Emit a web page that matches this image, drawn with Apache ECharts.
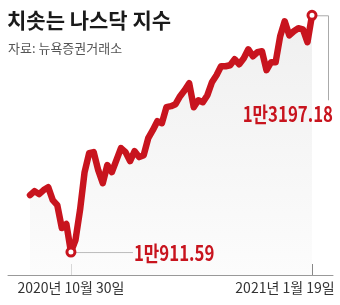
<!DOCTYPE html>
<html>
<head>
<meta charset="utf-8">
<title>치솟는 나스닥 지수</title>
<script src="https://cdn.jsdelivr.net/npm/echarts@6/dist/echarts.min.js"></script>
<style>
  body{margin:0;background:#fff;}
  #chart{width:340px;height:305px;}
</style>
</head>
<body>
<div id="chart"></div>
<script>
// 거래일 (2020.10.19 ~ 2021.1.19)
var days = [
    '2020-10-19','2020-10-20','2020-10-21','2020-10-22','2020-10-23','2020-10-26','2020-10-27','2020-10-28','2020-10-29','2020-10-30',
    '2020-11-02','2020-11-03','2020-11-04','2020-11-05','2020-11-06','2020-11-09','2020-11-10','2020-11-11','2020-11-12','2020-11-13',
    '2020-11-16','2020-11-17','2020-11-18','2020-11-19','2020-11-20','2020-11-23','2020-11-24','2020-11-25','2020-11-27','2020-11-30',
    '2020-12-01','2020-12-02','2020-12-03','2020-12-04','2020-12-07','2020-12-08','2020-12-09','2020-12-10','2020-12-11','2020-12-14',
    '2020-12-15','2020-12-16','2020-12-17','2020-12-18','2020-12-21','2020-12-22','2020-12-23','2020-12-24','2020-12-28','2020-12-29',
    '2020-12-30','2020-12-31','2021-01-04','2021-01-05','2021-01-06','2021-01-07','2021-01-08','2021-01-11','2021-01-12','2021-01-13',
    '2021-01-14','2021-01-15','2021-01-19'
];
// 나스닥 종가
var closes = [
    11461, 11500, 11471, 11510, 11538, 11413, 11365, 11143, 11182, 10911.59,
    11027, 11317, 11683, 11866, 11876, 11702, 11577, 11751, 11683, 11799,
    11915, 11876, 11789, 11886, 11828, 11847, 12011, 12088, 12175, 12156,
    12310, 12320, 12339, 12416, 12474, 12541, 12310, 12377, 12358, 12426,
    12551, 12618, 12705, 12705, 12715, 12773, 12725, 12782, 12869, 12802,
    12840, 12850, 12667, 12744, 12744, 12995, 13139, 13004, 13043, 13072,
    13062, 12937, 13197.18
];
var markDays = ['2020-10-30', '2021-01-19'];
var lowLabel = '1만911.59';
var lastLabel = '1만3197.18';

var RED = '#c8141e';
var KR = '"Noto Sans CJK KR", sans-serif';

var iLow = days.indexOf(markDays[0]);
var iLast = days.indexOf(markDays[1]);

function dateText(v){
    var d = v.split('-');
    return d[0] + '년 ' + (+d[1]) + '월 ' + (+d[2]) + '일';
}

var seriesData = closes.map(function(v, i){
    if(i == iLow || i == iLast){
        return {
            value: v,
            symbol: 'circle',
            symbolSize: 8,
            itemStyle: {color: '#fff', borderColor: RED, borderWidth: 3}
        };
    }
    return v;
});

var chart = echarts.init(document.getElementById('chart'));
var option = {
    animation: false,
    title: [
        {
            text: '치솟는 나스닥 지수', left: 7, top: 10, padding: 0,
            textStyle: {fontSize: 21, fontWeight: 'bold', color: '#1a1a1a', fontFamily: KR}
        },
        {
            text: '자료: 뉴욕증권거래소', left: 8, top: 42, padding: 0,
            textStyle: {fontSize: 13, fontWeight: 'normal', color: '#555', fontFamily: KR}
        }
    ],
    grid: [
        {left: 30, right: 28, top: 15, bottom: 30},
        {left: 8, right: 7, top: 15, bottom: 30}   // 아래 가로선용
    ],
    xAxis: [
        {
            type: 'category',
            gridIndex: 0,
            data: days,
            boundaryGap: false,
            axisLine: {show: false},
            axisTick: {
                show: true, inside: true, length: 11,
                lineStyle: {color: '#888'},
                interval: function(i){ return i == iLow || i == iLast; }
            },
            axisLabel: {
                margin: 6,
                fontSize: 14, color: '#333', fontFamily: KR,
                interval: function(i){ return i == iLow || i == iLast; },
                formatter: function(v, i){
                    if(i == iLast) return '{r|' + dateText(v) + '}';
                    return dateText(v);
                },
                rich: {
                    r: {fontSize: 14, color: '#333', fontFamily: KR, padding: [0, 54, 0, 0]}
                }
            },
            splitLine: {show: false}
        },
        {
            type: 'value',
            gridIndex: 1,
            min: 0, max: 1,
            axisLine: {show: true, lineStyle: {color: '#999', width: 1}},
            axisTick: {show: false},
            axisLabel: {show: false},
            splitLine: {show: false}
        }
    ],
    yAxis: [
        {type: 'value', gridIndex: 0, min: 10690, max: 13200, show: false},
        {type: 'value', gridIndex: 1, show: false}
    ],
    series: [
        {
            type: 'line',
            xAxisIndex: 0,
            yAxisIndex: 0,
            data: seriesData,
            symbol: 'none',
            showSymbol: true,
            showAllSymbol: true,
            lineStyle: {color: RED, width: 6.5, join: 'round', cap: 'round'},
            itemStyle: {color: RED},
            areaStyle: {
                origin: 'start',
                color: new echarts.graphic.LinearGradient(0, 0, 0, 1, [
                    {offset: 0, color: '#e8e8e8'},
                    {offset: 1, color: '#fafafa'}
                ])
            },
            z: 3
        }
    ]
};
chart.setOption(option);

// 최저점, 마지막 값 표시 (좌표는 축에서 변환)
var pLow = chart.convertToPixel({xAxisIndex: 0, yAxisIndex: 0}, [iLow, closes[iLow]]);
var pLast = chart.convertToPixel({xAxisIndex: 0, yAxisIndex: 0}, [iLast, closes[iLast]]);

// 빨간 숫자는 좁은 글꼴처럼 가로로 눌러서 표시
var numStyle = {fill: RED, fontSize: 21, fontWeight: 'bold', fontFamily: KR, verticalAlign: 'middle'};

chart.setOption({
    graphic: [
        {
            type: 'polyline', z: 2,
            shape: {points: [[pLow[0] + 5, pLow[1] + 0.5], [pLow[0] + 62, pLow[1] + 0.5]]},
            style: {stroke: '#333', lineWidth: 1, fill: null}
        },
        {
            type: 'text', z: 10,
            x: pLow[0] + 63, y: pLow[1] + 1,
            scaleX: 0.8,
            style: echarts.util.extend({text: lowLabel, align: 'left'}, numStyle)
        },
        {
            type: 'polyline', z: 2,
            shape: {points: [[pLast[0] + 5, pLast[1] + 0.5], [pLast[0] + 16.5, pLast[1] + 0.5], [pLast[0] + 16.5, pLast[1] + 85]]},
            style: {stroke: '#aaa', lineWidth: 1, fill: null}
        },
        {
            type: 'text', z: 10,
            x: pLast[0] + 21, y: pLast[1] + 99,
            scaleX: 0.8,
            style: echarts.util.extend({text: lastLabel, align: 'right'}, numStyle)
        }
    ]
});
</script>
</body>
</html>
